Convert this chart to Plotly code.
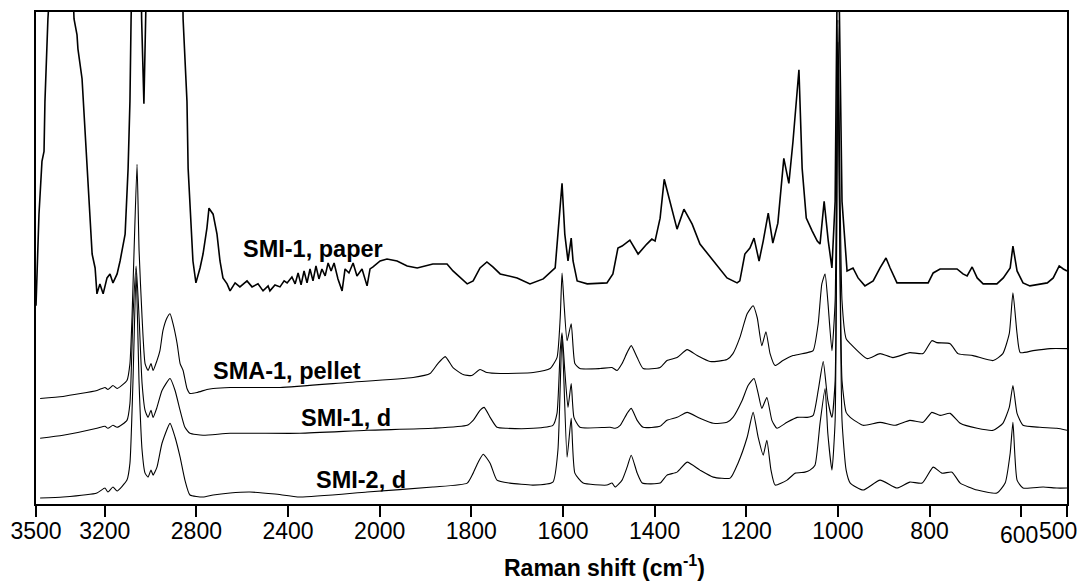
import numpy as np
import plotly.graph_objects as go

# ---- data: (Raman shift cm-1, intensity a.u. with stacking offset) ----
paper = [(3500,199),(3496,224),(3491,264),(3487,291),(3474,344),(3465,354),(3461,404),(3452,471),(3448,487),
 (3430,554),(3395,704),(3369,704),(3343,554),(3334,487),(3321,471),(3317,457),(3299,427),(3295,411),(3286,371),
 (3277,327),(3264,287),(3255,251),(3242,237),(3234,211),(3221,221),(3207,211),(3190,227),(3177,231),(3164,222),
 (3155,227),(3146,231),(3133,244),(3111,271),(3098,337),(3090,404),(3085,487),(3077,704),(3055,804),(3042,554),
 (3039,487),(3029,402),(3017,487),(3002,704),(2937,804),(2871,704),(2858,487),(2850,454),(2841,404),(2836,337),
 (2823,287),(2815,244),(2802,222),(2784,237),(2771,251),(2754,277),(2745,297),(2736,294),(2727,291),(2710,271),
 (2697,244),(2684,227),(2666,221),(2653,214),(2631,222),(2610,218),(2579,224),(2557,218),(2531,221),(2509,214),
 (2487,219),(2479,214),(2457,220),(2435,218),(2417,224),(2404,222),(2383,228),(2369,221),(2356,232),(2343,220),
 (2330,234),(2317,222),(2304,236),(2291,224),(2278,239),(2265,226),(2252,236),(2238,229),(2225,242),(2212,234),
 (2199,242),(2182,226),(2164,214),(2151,236),(2134,232),(2116,242),(2099,229),(2077,236),(2055,219),(2042,236),
 (2029,238),(1999,244),(1984,246),(1962,244),(1940,239),(1918,237),(1884,241),(1853,241),(1840,234),(1809,221),
 (1796,224),(1781,237),(1766,243),(1753,238),(1737,231),(1700,227),(1672,221),(1643,226),(1617,237),(1611,271),
 (1602,322),(1596,271),(1589,244),(1582,267),(1578,244),(1569,224),(1547,221),(1504,222),(1491,231),(1480,257),
 (1471,259),(1454,265),(1436,251),(1417,261),(1406,266),(1399,264),(1388,287),(1379,326),(1366,304),(1351,276),
 (1336,296),(1318,281),(1301,261),(1272,244),(1242,227),(1220,222),(1214,224),(1203,251),(1192,257),(1183,267),
 (1172,244),(1163,264),(1152,292),(1142,262),(1131,282),(1118,347),(1107,322),(1098,364),(1091,401),(1085,436),
 (1078,337),(1069,287),(1056,274),(1045,264),(1039,261),(1030,304),(1021,264),(1013,237),(1006,304),(1000,604),
 (991,304),(980,234),(967,237),(956,227),(941,219),(923,224),(908,237),(895,247),(886,237),(871,222),(836,222),
 (803,222),(792,232),(777,236),(740,236),(727,231),(718,229),(707,238),(696,227),(683,221),(653,221),(639,227),
 (624,237),(618,259),(609,234),(596,222),(581,219),(559,221),(543,222),(530,227),(517,239),(508,236),(500,234)]

pellet = [(3482,106),(3382,108),(3234,114),(3199,117),(3186,115),(3164,119),(3146,116),(3103,124),(3090,141),
 (3081,187),(3072,254),(3059,341),(3050,254),(3037,187),(3024,141),(3011,134),(2998,141),(2989,134),(2972,144),
 (2959,154),(2946,174),(2928,187),(2915,191),(2902,181),(2884,161),(2871,141),(2858,134),(2841,116),(2828,111),
 (2797,112),(2754,115),(2727,116),(2653,117),(2435,117),(2142,122),(1927,127),(1890,131),(1873,141),(1857,148),
 (1840,137),(1818,130),(1799,129),(1781,135),(1766,132),(1737,131),(1665,132),(1628,136),(1613,147),(1606,187),
 (1602,232),(1598,204),(1591,164),(1582,181),(1574,141),(1563,136),(1519,136),(1493,137),(1482,134),(1471,141),
 (1460,152),(1451,159),(1438,147),(1425,136),(1388,137),(1373,144),(1351,147),(1329,155),(1307,149),(1279,143),
 (1242,145),(1229,151),(1214,167),(1198,191),(1185,199),(1176,187),(1166,159),(1157,173),(1148,151),(1137,139),
 (1120,144),(1098,149),(1067,152),(1054,154),(1043,181),(1035,221),(1028,231),(1022,204),(1013,154),(1006,204),
 (1000,486),(991,204),(982,166),(973,161),(936,146),(908,151),(880,147),(843,152),(814,151),(795,164),(784,162),
 (755,161),(738,151),(705,149),(661,144),(640,151),(626,171),(618,212),(609,171),(602,152),(574,154),(537,156),
 (500,156)]

smi1 = [(3482,66),(3382,69),(3234,76),(3199,78),(3186,76),(3164,79),(3146,77),(3103,84),(3090,101),(3077,187),
 (3063,239),(3050,187),(3037,121),(3024,94),(3011,87),(2998,94),(2989,87),(2972,97),(2950,114),(2915,126),
 (2893,114),(2871,94),(2850,77),(2828,71),(2771,69),(2653,71),(2348,71),(2055,74),(1884,76),(1809,79),(1796,84),
 (1781,94),(1772,97),(1759,87),(1744,77),(1722,76),(1665,76),(1622,79),(1613,91),(1606,154),(1602,172),(1596,134),
 (1589,97),(1582,121),(1576,87),(1563,77),(1497,77),(1486,76),(1475,79),(1460,91),(1451,96),(1438,84),(1425,77),
 (1388,78),(1373,84),(1351,87),(1329,92),(1301,86),(1272,81),(1242,82),(1229,87),(1209,104),(1196,119),(1183,126),
 (1174,111),(1166,96),(1155,107),(1144,84),(1133,76),(1111,82),(1089,87),(1067,87),(1054,89),(1043,114),(1032,143),
 (1022,104),(1013,87),(1006,124),(1000,464),(991,124),(982,92),(973,87),(945,79),(908,82),(875,79),(843,84),
 (814,82),(795,92),(777,89),(755,91),(733,81),(696,76),(661,74),(640,81),(626,97),(618,119),(609,91),(596,79),
 (559,77),(522,76),(500,74)]

smi2 = [(3482,6),(3382,7),(3234,11),(3199,16),(3186,12),(3164,17),(3146,13),(3103,24),(3090,41),(3077,121),
 (3063,232),(3050,121),(3037,54),(3024,31),(3011,27),(2998,34),(2989,29),(2972,37),(2950,61),(2915,81),(2893,67),
 (2871,47),(2850,24),(2828,9),(2771,7),(2727,9),(2653,11),(2566,12),(2457,10),(2348,7),(2055,12),(1884,17),
 (1809,21),(1796,31),(1785,42),(1774,50),(1759,41),(1744,24),(1716,21),(1665,19),(1622,22),(1611,54),(1602,169),
 (1591,47),(1582,86),(1574,31),(1556,21),(1504,19),(1493,21),(1486,17),(1471,24),(1460,37),(1451,49),(1438,31),
 (1427,21),(1388,21),(1373,29),(1351,32),(1329,42),(1301,34),(1272,27),(1235,26),(1218,41),(1198,67),(1185,92),
 (1174,67),(1163,49),(1155,64),(1146,34),(1137,19),(1111,24),(1093,31),(1072,32),(1061,34),(1050,39),(1039,81),
 (1028,116),(1022,71),(1013,34),(1006,84),(1000,444),(991,84),(982,34),(973,21),(945,14),(908,24),(871,16),
 (843,22),(816,21),(792,37),(773,31),(751,32),(733,21),(696,14),(653,11),(635,21),(624,51),(618,82),(609,24),
 (596,16),(552,17),(522,16),(500,16)]

paper_shift, paper_int = [p[0] for p in paper], [p[1] for p in paper]
pellet_shift, pellet_int = [p[0] for p in pellet], [p[1] for p in pellet]
smi1_shift, smi1_int = [p[0] for p in smi1], [p[1] for p in smi1]
smi2_shift, smi2_int = [p[0] for p in smi2], [p[1] for p in smi2]

tick_values = [3500, 3200, 2800, 2400, 2000, 1800, 1600, 1400, 1200, 1000, 800, 600, 500]
labels = ["SMI-1, paper", "SMA-1, pellet", "SMI-1, d", "SMI-2, d"]

# broken axis: above 2000 cm-1 the scale is compressed by a factor of 2
BREAK = 2000.0
def to_axis(w):
    w = np.asarray(w, dtype=float)
    return np.where(w <= BREAK, w, BREAK + (w - BREAK) / 2.0)

FONT = "Liberation Sans, Arial, Helvetica, sans-serif"
fig = go.Figure()
series = [(paper_shift, paper_int, 1.6, "linear"), (pellet_shift, pellet_int, 1.1, "spline"),
          (smi1_shift, smi1_int, 1.1, "spline"), (smi2_shift, smi2_int, 1.1, "spline")]
for sx, sy, lw, shape in series:
    line = dict(color="black", width=lw, shape=shape)
    if shape == "spline":
        line["smoothing"] = 0.5
    fig.add_trace(go.Scatter(x=to_axis(sx), y=sy, mode="lines", line=line,
                             showlegend=False, hoverinfo="skip"))

tv = to_axis(tick_values)
tt = [str(t) for t in tick_values]
tt_axis = [t if t not in ("600", "500") else " " for t in tt]

fig.update_layout(
    width=1089, height=581,
    margin=dict(l=36, r=22, t=10, b=77, pad=0),
    paper_bgcolor="white", plot_bgcolor="white",
    font=dict(family=FONT, color="black", size=23),
    xaxis=dict(range=[float(to_axis([3500])[0]), 500], tickmode="array",
               tickvals=tv, ticktext=tt_axis, ticks="outside", ticklen=11, tickwidth=2,
               tickcolor="black", showline=True, linewidth=2, linecolor="black",
               mirror=True, showgrid=False, zeroline=False, ticklabelstandoff=-6,
               tickfont=dict(family=FONT, size=23, color="black")),
    yaxis=dict(range=[0, 494], showticklabels=False, ticks="", showline=True,
               linewidth=2, linecolor="black", mirror=True, showgrid=False,
               zeroline=False),
)

def px2paper_x(px):
    return (px - 36) / 1031.0
def py2paper_y(py):
    return (504 - py) / 494.0

label_pos = [(313, 248), (287, 370), (346, 418), (361, 480)]
for text, (px, py) in zip(labels, label_pos):
    fig.add_annotation(x=px2paper_x(px), y=py2paper_y(py), xref="paper", yref="paper",
                       text="<b>%s</b>" % text, showarrow=False,
                       font=dict(family=FONT, size=23.5, color="black"),
                       xanchor="center", yanchor="middle")

# last two tick labels (shifted in the original)
for text, px, py in [("600", 1019, 535), ("500", 1058, 531)]:
    fig.add_annotation(x=px2paper_x(px), y=py2paper_y(py), xref="paper", yref="paper",
                       text=text, showarrow=False,
                       font=dict(family=FONT, size=23, color="black"),
                       xanchor="center", yanchor="middle")

fig.add_annotation(x=px2paper_x(604), y=py2paper_y(566), xref="paper", yref="paper",
                   text="<b>Raman shift (cm<sup>-1</sup>)</b>", showarrow=False,
                   font=dict(family=FONT, size=23, color="black"),
                   xanchor="center", yanchor="middle")

fig.write_html("out.html", config={"displayModeBar": False},
               post_script="document.body.style.margin='0px';")
